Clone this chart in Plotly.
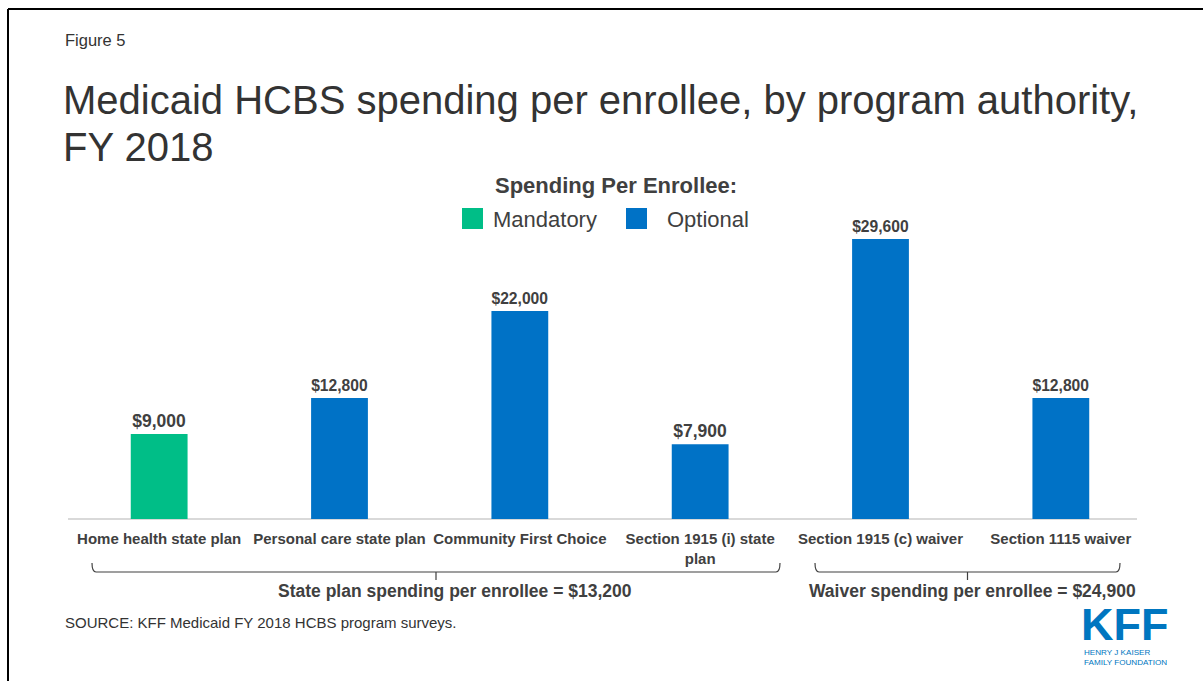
import plotly.graph_objects as go

categories = ["Home health state plan", "Personal care state plan", "Community First Choice",
              "Section 1915 (i) state<br>plan", "Section 1915 (c) waiver", "Section 1115 waiver"]
values = [9000, 12800, 22000, 7900, 29600, 12800]
types = ["Mandatory", "Optional", "Optional", "Optional", "Optional", "Optional"]
colors_map = {"Mandatory": "#00BE87", "Optional": "#0072C6"}
groups = [("State plan spending per enrollee = $13,200", 0, 3),
          ("Waiver spending per enrollee = $24,900", 4, 5)]

W, H = 1203, 681
L, R, T, B = 69, 1151, 188, 519
def px(x):
    return (x - L) / (R - L)
def py(y):
    return (B - y) / (B - T)

TXT = "#404040"
FONT = "Liberation Sans, Arial, sans-serif"

fig = go.Figure()
fig.add_trace(go.Bar(
    x=list(range(len(categories))), y=values,
    marker=dict(color=[colors_map[t] for t in types], line=dict(width=0)),
    text=[f"<b>${v:,}</b>" for v in values], textposition="outside",
    textfont=dict(size=17.5, color=TXT, family=FONT),
    cliponaxis=False, showlegend=False, width=0.315,
))

shapes = []
annotations = []
# baseline
shapes.append(dict(type="line", xref="paper", yref="paper", x0=px(68), x1=px(1137), y0=0, y1=0,
                   line=dict(color="#D9D9D9", width=2), layer="below"))
# frame border
shapes.append(dict(type="line", xref="paper", yref="paper", x0=px(8), x1=px(1203), y0=py(9), y1=py(9),
                   line=dict(color="#000000", width=2)))
shapes.append(dict(type="line", xref="paper", yref="paper", x0=px(8), x1=px(8), y0=py(9), y1=py(681),
                   line=dict(color="#000000", width=2)))

# brackets
bracket_px = [(92, 780), (815, 1120)]
label_px = [455, 972]
for (label, i0, i1), (bx0, bx1), lx in zip(groups, bracket_px, label_px):
    mid = (bx0 + bx1) / 2
    yl, yt, ym = 572, 563, 580
    path = (f"M {px(bx0)},{py(yt)} Q {px(bx0)},{py(yl)} {px(bx0+4)},{py(yl)} "
            f"L {px(bx1-4)},{py(yl)} Q {px(bx1)},{py(yl)} {px(bx1)},{py(yt)} "
            f"M {px(mid)},{py(yl)} L {px(mid)},{py(ym)}")
    shapes.append(dict(type="path", xref="paper", yref="paper", path=path,
                       line=dict(color="#404040", width=1.2)))
    annotations.append(dict(text=f"<b>{label}</b>", xref="paper", yref="paper",
                            x=px(lx), y=py(591), showarrow=False,
                            xanchor="center", yanchor="middle",
                            font=dict(size=17.5, color=TXT, family=FONT)))

# title texts
annotations.append(dict(text="Figure 5", xref="paper", yref="paper", x=px(63), y=py(40),
                        xanchor="left", yanchor="middle", showarrow=False,
                        font=dict(size=16.5, color="#333333", family=FONT)))
title_lines = ["Medicaid HCBS spending per enrollee, by program authority,", "FY 2018"]
for line, yc in zip(title_lines, [100, 147]):
    annotations.append(dict(text=line, xref="paper", yref="paper", x=px(61), y=py(yc),
                            xanchor="left", yanchor="middle", showarrow=False,
                            font=dict(size=40, color="#333333", family=FONT)))
annotations.append(dict(text="SOURCE: KFF Medicaid FY 2018 HCBS program surveys.", xref="paper", yref="paper",
                        x=px(63), y=py(622), xanchor="left", yanchor="middle", showarrow=False,
                        font=dict(size=15, color="#333333", family=FONT)))

# legend
annotations.append(dict(text="<b>Spending Per Enrollee:</b>", xref="paper", yref="paper", x=px(616), y=py(185),
                        xanchor="center", yanchor="middle", showarrow=False,
                        font=dict(size=22, color=TXT, family=FONT)))
legend_items = [("Mandatory", 462, 491), ("Optional", 626, 665)]
for name, sx, tx in legend_items:
    shapes.append(dict(type="rect", xref="paper", yref="paper", x0=px(sx), x1=px(sx + 21),
                       y0=py(229), y1=py(208), fillcolor=colors_map[name], line=dict(width=0)))
    annotations.append(dict(text=name, xref="paper", yref="paper", x=px(tx), y=py(219),
                            xanchor="left", yanchor="middle", showarrow=False,
                            font=dict(size=22, color=TXT, family=FONT)))

# KFF logo
annotations.append(dict(text="<b>KFF</b>", xref="paper", yref="paper", x=px(1080), y=py(624),
                        xanchor="left", yanchor="middle", showarrow=False, height=34, valign="middle",
                        borderpad=0, font=dict(size=45, color="#0076C0", family=FONT)))
annotations.append(dict(text="HENRY J KAISER", xref="paper", yref="paper",
                        x=px(1083), y=py(652), xanchor="left", yanchor="middle", height=9, borderpad=0,
                        showarrow=False, font=dict(size=8.1, color="#0076C0", family=FONT)))
annotations.append(dict(text="FAMILY FOUNDATION", xref="paper", yref="paper",
                        x=px(1083), y=py(662), xanchor="left", yanchor="middle", height=9, borderpad=0,
                        showarrow=False, font=dict(size=8.1, color="#0076C0", family=FONT)))

fig.update_layout(
    width=W, height=H,
    margin=dict(l=L, r=W - R, t=T, b=H - B),
    paper_bgcolor="white", plot_bgcolor="white",
    xaxis=dict(tickmode="array", tickvals=list(range(len(categories))),
               ticktext=[f"<b>{c}</b>" for c in categories], range=[-0.5, 5.5],
               showgrid=False, zeroline=False, showline=False, ticks="",
               ticklabelstandoff=9,
               tickfont=dict(size=15, color=TXT, family=FONT)),
    yaxis=dict(range=[0, 35000], visible=False, showgrid=False, zeroline=False),
    shapes=shapes, annotations=annotations,
    bargap=0.685,
)

fig.write_html("out.html", config={"displayModeBar": False},
               post_script="document.body.style.margin='0';")
